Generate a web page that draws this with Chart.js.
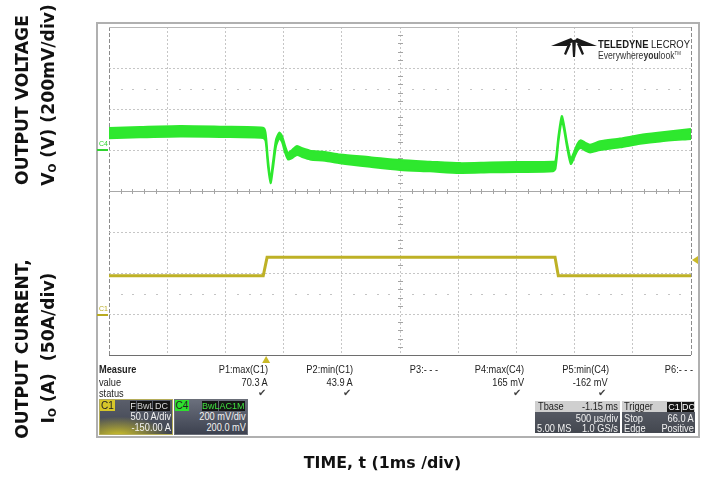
<!DOCTYPE html>
<html><head><meta charset="utf-8">
<script src="https://cdn.jsdelivr.net/npm/chart.js@4.4.1/dist/chart.umd.min.js"></script>
<style>
html,body{margin:0;padding:0;background:#fff;}
#wrap{position:relative;width:705px;height:477px;overflow:hidden;font-family:"Liberation Sans",Arial,sans-serif;}
#frame{position:absolute;left:96px;top:22px;width:600px;height:412px;border:2px solid #b0b0b0;background:#fff;z-index:0;}
#c{position:absolute;left:0;top:0;z-index:1;}
.t{position:absolute;white-space:nowrap;font-size:10.5px;line-height:12px;color:#222;z-index:2;}
.r{transform-origin:100% 50%;transform:scaleX(.88);}
.l{transform-origin:0 50%;transform:scaleX(.88);}
.box{position:absolute;z-index:2;overflow:hidden;}
.tag{position:absolute;background:#151515;font-size:9px;line-height:10px;height:10px;text-align:center;white-space:nowrap;}
.w{color:#f2f2f2;font-size:10.5px;}
.rot{position:absolute;width:220px;height:22px;line-height:22px;text-align:center;white-space:nowrap;transform:rotate(-90deg);font-family:"DejaVu Sans",sans-serif;font-weight:bold;font-size:17.2px;color:#111;z-index:2;}
.rot sub{font-size:10.5px;vertical-align:-2px;}
</style></head>
<body><div id="wrap">
<div id="frame"></div>
<canvas id="c" width="705" height="477"></canvas>

<!-- side titles -->
<div class="rot" style="left:-88px;top:89px;">OUTPUT VOLTAGE</div>
<div class="rot" style="left:-62px;top:84px;">V<sub>O</sub> (V) (200mV/div)</div>
<div class="rot" style="left:-88px;top:338px;">OUTPUT CURRENT,</div>
<div class="rot" style="left:-62px;top:337px;">I<sub>O</sub> (A)&nbsp; (50A/div)</div>
<div class="t" style="left:200px;width:365px;top:452px;line-height:22px;text-align:center;font-family:'DejaVu Sans',sans-serif;font-weight:bold;font-size:15.8px;color:#111;">TIME, t (1ms /div)</div>

<!-- logo -->
<svg style="position:absolute;left:0;top:0;z-index:2" width="705" height="80">
  <polygon points="551,46 571,38 574,41 567,46" fill="#1a1a1a"/>
  <polygon points="597,46 577,38 574,41 581,46" fill="#1a1a1a"/>
  <polygon points="572,40 576,40 575,57 573,57" fill="#1a1a1a"/>
  <polygon points="568,44 571,44 566,55 564,54" fill="#1a1a1a"/>
  <polygon points="580,44 577,44 582,55 584,54" fill="#1a1a1a"/>
</svg>
<div class="t l" style="left:598px;top:38px;font-size:11px;color:#1a1a1a;transform:scaleX(.86);"><b>TELEDYNE</b> LECROY</div>
<div class="t l" style="left:598px;top:47px;font-size:10px;color:#333;transform:scaleX(.86);">Everywhere<b>you</b>look<span style="font-size:5px;vertical-align:4px">TM</span></div>

<!-- channel markers -->
<div class="t" style="left:99px;top:138px;font-size:7px;color:#2fd42f;">C4</div>
<div style="position:absolute;left:97px;top:149px;width:11px;height:2px;background:#2fd42f;z-index:2"></div>
<div class="t" style="left:99px;top:303px;font-size:7px;color:#b8aa20;">C1</div>
<div style="position:absolute;left:97px;top:314px;width:11px;height:2px;background:#b8aa20;z-index:2"></div>

<!-- measure table -->
<div class="t l" style="left:99px;top:363px;font-weight:bold;">Measure</div>
<div class="t l" style="left:99px;top:376px;">value</div>
<div class="t l" style="left:99px;top:387px;">status</div>
<div class="t r" style="right:437px;top:363px;">P1:max(C1)</div>
<div class="t r" style="right:352px;top:363px;">P2:min(C1)</div>
<div class="t r" style="right:267px;top:363px;">P3:- - -</div>
<div class="t r" style="right:181px;top:363px;">P4:max(C4)</div>
<div class="t r" style="right:96px;top:363px;">P5:min(C4)</div>
<div class="t r" style="right:12px;top:363px;">P6:- - -</div>
<div class="t r" style="right:437px;top:376px;">70.3 A</div>
<div class="t r" style="right:352px;top:376px;">43.9 A</div>
<div class="t r" style="right:181px;top:376px;">165 mV</div>
<div class="t r" style="right:97px;top:376px;">-162 mV</div>
<div class="t" style="left:258px;top:387px;font-family:'DejaVu Sans';font-size:10px;color:#444;">✔</div>
<div class="t" style="left:343px;top:387px;font-family:'DejaVu Sans';font-size:10px;color:#444;">✔</div>
<div class="t" style="left:513px;top:387px;font-family:'DejaVu Sans';font-size:10px;color:#444;">✔</div>
<div class="t" style="left:598px;top:387px;font-family:'DejaVu Sans';font-size:10px;color:#444;">✔</div>

<!-- C1 box -->
<div class="box" style="left:99px;top:399px;width:72px;height:34px;border:1px solid #b5ad5a;background:radial-gradient(ellipse 90% 70% at 25% 105%, rgba(214,200,40,0.95), rgba(214,200,40,0) 80%), linear-gradient(#5a5e6a,#3e4350);"></div>
<div class="box" style="left:100px;top:400px;width:15px;height:11px;background:#d6c62a;font-size:10px;line-height:11px;text-align:center;color:#222;">C1</div>
<div class="tag" style="left:130px;top:401px;width:6px;color:#eee;z-index:3">F</div>
<div class="tag" style="left:137px;top:401px;width:15px;color:#ccc;z-index:3">BwL</div>
<div class="tag" style="left:153px;top:401px;width:17px;color:#ddd;z-index:3">DC</div>
<div class="t r w" style="right:534px;top:410px;">50.0 A/div</div>
<div class="t r w" style="right:534px;top:421px;">-150.00 A</div>

<!-- C4 box -->
<div class="box" style="left:174px;top:399px;width:72px;height:34px;border:1px solid #6a6e78;background:linear-gradient(#6a6f7c,#3d4250);"></div>
<div class="box" style="left:175px;top:400px;width:14px;height:11px;background:#2ee02e;font-size:10px;line-height:11px;text-align:center;color:#222;">C4</div>
<div class="tag" style="left:202px;top:401px;width:16px;color:#3fe03f;z-index:3">BwL</div>
<div class="tag" style="left:219px;top:401px;width:26px;color:#3fe03f;z-index:3">AC1M</div>
<div class="t r w" style="right:459px;top:410px;">200 mV/div</div>
<div class="t r w" style="right:459px;top:421px;">200.0 mV</div>

<!-- Tbase box -->
<div class="box" style="left:535px;top:401px;width:85px;height:32px;background:linear-gradient(#5d616c,#43474f);"></div>
<div class="box" style="left:535px;top:401px;width:85px;height:11px;background:#cfcfcf;"></div>
<div class="t l" style="left:538px;top:400px;">Tbase</div>
<div class="t r" style="right:87px;top:400px;">-1.15 ms</div>
<div class="t r w" style="right:87px;top:412px;">500 µs/div</div>
<div class="t l w" style="left:537px;top:422px;">5.00 MS</div>
<div class="t r w" style="right:87px;top:422px;">1.0 GS/s</div>

<!-- Trigger box -->
<div class="box" style="left:622px;top:401px;width:73px;height:32px;background:linear-gradient(#5d616c,#43474f);"></div>
<div class="box" style="left:622px;top:401px;width:73px;height:11px;background:#cfcfcf;"></div>
<div class="t l" style="left:624px;top:400px;">Trigger</div>
<div class="tag" style="left:667px;top:402px;width:14px;color:#fff;z-index:3">C1</div>
<div class="tag" style="left:682px;top:402px;width:12px;color:#fff;z-index:3">DC</div>
<div class="t l w" style="left:624px;top:412px;">Stop</div>
<div class="t r w" style="right:11px;top:412px;">66.0 A</div>
<div class="t l w" style="left:624px;top:422px;">Edge</div>
<div class="t r w" style="right:11px;top:422px;">Positive</div>
</div>

<script>
// ---- data (time in ms relative to trigger) ----
const xGrid = [-1.35,-0.85,-0.35,0.15,0.65,1.15,1.65,2.15,2.65,3.15,3.65];   // 500 us/div
const yCurrGrid = [-50,0,50,100,150,200,250,300,350];                        // 50 A/div
const dotRowsA = [275,25];
const triggerTime = 0;
const triggerLevelA = 66.0;

// C4 output voltage (mV), noise envelope
const vTime = [-1.35,-1.083,-0.740,-0.396,-0.027,-0.005,0.016,0.038,0.059,0.085,0.113,0.137,0.162,0.188,0.223,0.265,0.317,0.377,0.506,0.635,0.893,1.150,1.408,1.666,1.924,2.156,2.465,2.486,2.512,2.540,2.559,2.585,2.617,2.645,2.675,2.703,2.740,2.783,2.869,3.040,3.212,3.384,3.650];
const vHigh = [107,112,117,114,109,85,-47,-138,-56,51,85,68,22,-13,0,19,7,-3,-10,-22,-35,-49,-57,-64,-61,-59,-57,-52,73,166,124,36,-42,-10,31,48,36,26,43,56,73,85,102];
const vLow  = [57,62,66,64,59,43,-80,-162,-90,18,57,39,-12,-46,-39,-24,-36,-46,-53,-65,-82,-97,-104,-112,-109,-107,-104,-90,44,144,100,13,-68,-39,-2,10,-2,-12,0,13,30,42,54];

// C1 output current (A)
const iTime = [-1.35,-0.025,0.008,2.482,2.510,3.65];
const iVal  = [46.7,46.7,69.1,69.1,46.7,46.7];

const GREEN = '#2ee82e';
const YELLOW = '#beb126';

const pts = (xs, ys) => xs.map((v,i)=>({x:v,y:ys[i]}));

const deco = {
  id:'deco',
  beforeDatasetsDraw(chart){
    const {ctx, scales:{x, y1}} = chart;
    const x0 = x.getPixelForValue(xGrid[0]), x1 = x.getPixelForValue(xGrid[xGrid.length-1]);
    const divW = (x1-x0)/10;
    const yTop = y1.getPixelForValue(350), yBot = y1.getPixelForValue(-50);
    const divH = (yBot-yTop)/8;
    ctx.save();
    ctx.fillStyle = '#a4a4a4';
    const yc = Math.round(y1.getPixelForValue(150));
    for (let i=1;i<50;i++){ if(i%5===0) continue; ctx.fillRect(Math.round(x0+i*divW/5), yc-2, 1, 5); }
    const xc = Math.round(x.getPixelForValue(1.15));
    for (let j=1;j<40;j++){ if(j%5===0) continue; ctx.fillRect(xc-2, Math.round(yTop+j*divH/5), 5, 1); }
    ctx.fillStyle = '#c4c4c4';
    for (const v of dotRowsA){
      const py = Math.round(y1.getPixelForValue(v));
      for (let i=1;i<50;i++){ if(i%5===0) continue; ctx.fillRect(Math.round(x0+i*divW/5), py, 2, 1); }
    }
    ctx.restore();
  },
  afterDraw(chart){
    const {ctx, scales:{x, y1}} = chart;
    ctx.save();
    ctx.fillStyle = '#c9b928';
    const tx = x.getPixelForValue(triggerTime);
    ctx.beginPath(); ctx.moveTo(tx-4,363); ctx.lineTo(tx+4,363); ctx.lineTo(tx,356); ctx.closePath(); ctx.fill();
    const ty = y1.getPixelForValue(triggerLevelA);
    ctx.beginPath(); ctx.moveTo(692,ty); ctx.lineTo(698,ty-4); ctx.lineTo(698,ty+4); ctx.closePath(); ctx.fill();
    ctx.restore();
  }
};

new Chart(document.getElementById('c'), {
  type:'line',
  data:{ datasets:[
    {label:'C4 hi', data:pts(vTime,vHigh), yAxisID:'y', borderColor:GREEN, backgroundColor:GREEN, borderWidth:2, pointRadius:0, tension:0.25, fill:false},
    {label:'C4 lo', data:pts(vTime,vLow), yAxisID:'y', borderColor:GREEN, backgroundColor:GREEN, borderWidth:2, pointRadius:0, tension:0.25, fill:'-1'},
    {label:'C1', data:pts(iTime,iVal), yAxisID:'y1', borderColor:YELLOW, borderWidth:3, pointRadius:0, tension:0, fill:false}
  ]},
  options:{
    responsive:false, animation:false, events:[],
    layout:{padding:{left:109,top:27,right:14,bottom:122}},
    plugins:{legend:{display:false}, tooltip:{enabled:false}},
    scales:{
      x:{type:'linear', min:xGrid[0], max:xGrid[xGrid.length-1],
         afterBuildTicks:s=>{ s.ticks = xGrid.map(v=>({value:v})); },
         ticks:{display:false},
         grid:{drawTicks:false, lineWidth:1, color:c=> (c.index===0||c.index===10)?'#8c8c8c':'#c6c6c6'},
         border:{display:false, dash:c=> (c.index===0||c.index===10)?[4,2]:[2,2]}},
      y1:{type:'linear', position:'left', min:-50, max:350,
         afterBuildTicks:s=>{ s.ticks = yCurrGrid.map(v=>({value:v})); },
         ticks:{display:false},
         grid:{drawTicks:false, lineWidth:1, color:c=>{ const v=c.tick.value; if(v===-50) return '#6e6e6e'; if(v===150) return '#a8a8a8'; if(v===350) return '#b8b8b8'; return '#c6c6c6'; }},
         border:{display:false, dash:c=>{ const v=c.tick.value; return (v===-50||v===150||v===350)?[]:[2,2]; }}},
      y:{type:'linear', display:false, min:-1000, max:600}
    }
  },
  plugins:[deco]
});
</script>
</body></html>
